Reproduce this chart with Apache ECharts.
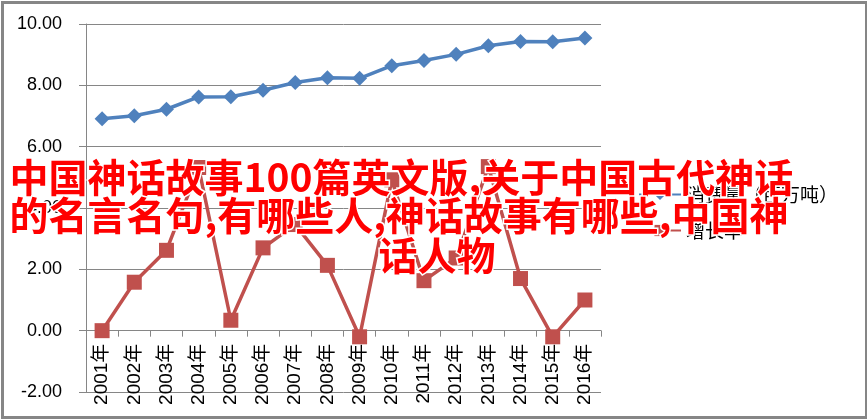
<!DOCTYPE html>
<html><head><meta charset="utf-8">
<script src="https://cdn.jsdelivr.net/npm/echarts@6/dist/echarts.min.js"></script>
<style>html,body{margin:0;padding:0;background:#fff}#c{width:867px;height:420px}</style>
</head><body><div id="c"></div>
<script>
const categories = ['2001年','2002年','2003年','2004年','2005年','2006年','2007年','2008年','2009年','2010年','2011年','2012年','2013年','2014年','2015年','2016年'];
const consumption = [6.91, 7.01, 7.22, 7.62, 7.63, 7.84, 8.09, 8.25, 8.23, 8.64, 8.81, 9.01, 9.29, 9.43, 9.42, 9.54];
const growth = [0.00, 1.58, 2.62, 5.32, 0.34, 2.70, 3.46, 2.13, -0.20, 4.92, 1.63, 2.37, 5.35, 1.70, -0.20, 1.00];
const seriesNames = ['消费量（百万吨）', '增长率'];
const overlayLines = ['中国神话故事100篇英文版,关于中国古代神话', '的名言名句,有哪些人,神话故事有哪些,中国神', '话人物'];

const chart = echarts.init(document.getElementById('c'));
const font = '"Liberation Sans", "Noto Sans CJK SC", sans-serif';
const overlayStyle = {
  fill: '#ff0000', fontSize: 39, fontWeight: 'bold',
  fontFamily: '"Noto Sans CJK SC", sans-serif',
  stroke: '#ffffff', lineWidth: 3, lineHeight: 38
};
const plotHeight = 420 - 24 - 28;
chart.setOption({
  animation: false,
  grid: { left: 86, right: 266, top: 24, bottom: 28, containLabel: false, outerBoundsMode: 'none' },
  xAxis: {
    type: 'category', data: categories, boundaryGap: true,
    offset: -plotHeight * 2 / 12,
    axisLine: { onZero: false, lineStyle: { color: '#868686', width: 1 } },
    axisTick: { show: true, length: 6, lineStyle: { color: '#868686' } },
    axisLabel: { rotate: 90, margin: 13, color: '#000', fontSize: 19, fontFamily: font }
  },
  yAxis: {
    type: 'value', min: -2, max: 10, interval: 2,
    axisLine: { show: true, lineStyle: { color: '#868686' } },
    axisTick: { show: true, length: 7, lineStyle: { color: '#868686' } },
    splitLine: { lineStyle: { color: '#868686', width: 1 } },
    axisLabel: { formatter: v => v.toFixed(2), color: '#000', fontSize: 18, margin: 24, fontFamily: font }
  },
  legend: {
    orient: 'vertical', left: 633, top: 180, itemGap: 17, itemWidth: 42, itemHeight: 14,
    textStyle: { color: '#000', fontSize: 19, fontFamily: '"Noto Sans CJK SC", sans-serif' },
    data: seriesNames
  },
  series: [
    { name: seriesNames[0], type: 'line', data: consumption, symbol: 'diamond', symbolSize: 15,
      itemStyle: { color: '#4F81BD' }, lineStyle: { color: '#4F81BD', width: 3.5 } },
    { name: seriesNames[1], type: 'line', data: growth, symbol: 'rect', symbolSize: 15,
      itemStyle: { color: '#C0504D' }, lineStyle: { color: '#C0504D', width: 3.5 } }
  ],
  graphic: [
    { type: 'rect', left: 0, top: 0, z: 100, silent: true,
      shape: { x: 1, y: 1, width: 864, height: 415 },
      style: { fill: 'none', stroke: '#868686', lineWidth: 3 } },
    { type: 'text', left: 8, top: 156, z: 110,
      style: Object.assign({ text: overlayLines[0] + '\n' + overlayLines[1], textAlign: 'left' }, overlayStyle) },
    { type: 'text', left: 377, top: 234, z: 110,
      style: Object.assign({ text: overlayLines[2], textAlign: 'left' }, overlayStyle) }
  ]
});
</script></body></html>
